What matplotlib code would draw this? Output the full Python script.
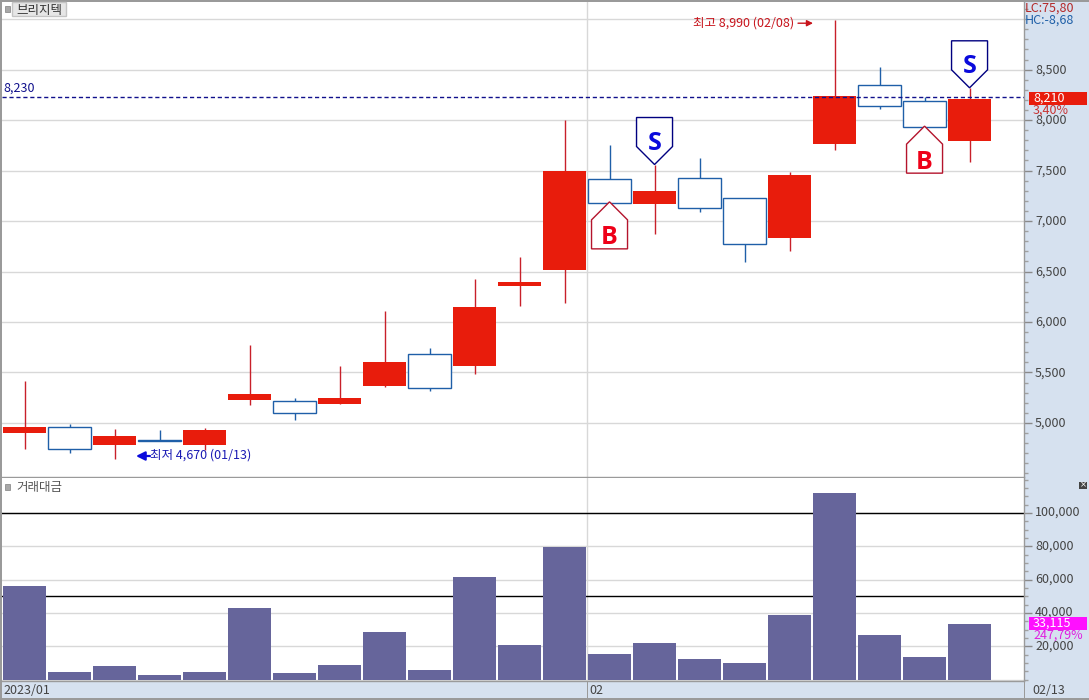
import matplotlib
matplotlib.use('Agg')
import matplotlib.pyplot as plt
from matplotlib.patches import Polygon, Rectangle
from matplotlib.ticker import MultipleLocator, FuncFormatter
import matplotlib.transforms as mtransforms
import numpy as np

plt.rcParams['font.family'] = ['Noto Sans CJK KR', 'DejaVu Sans']

W, H = 1089, 700

# OHLC, one entry per trading day
opens = [4900, 4960, 4870, 4830, 4780, 5230, 5220, 5190, 5370, 5680, 5560, 6360, 6510,
         7420, 7170, 7430, 7230, 6830, 7760, 8350, 8190, 7790]
closes = [4960, 4740, 4780, 4820, 4930, 5290, 5100, 5250, 5600, 5350, 6150, 6395, 7500,
          7180, 7300, 7130, 6770, 7460, 8240, 8140, 7930, 8210]
highs = [5420, 4990, 4940, 4930, 4950, 5770, 5250, 5560, 6110, 5740, 6430, 6640, 8000,
         7750, 7560, 7620, 7230, 7490, 8990, 8530, 8230, 8320]
lows = [4740, 4700, 4640, 4820, 4730, 5180, 5030, 5190, 5360, 5320, 5480, 6160, 6190,
        7190, 6870, 7090, 6590, 6700, 7700, 8110, 7940, 7580]
rising = [1, 0, 1, 0, 1, 1, 0, 1, 1, 0, 1, 1, 1, 0, 1, 0, 0, 1, 1, 0, 0, 1]
volumes = [56200, 4500, 8100, 2700, 4500, 43000, 3900, 8700, 28600, 5700, 61700, 20800, 79800,
           15300, 22000, 12300, 9900, 38800, 111700, 26800, 13500, 33115]

price_ticks = [5000, 5500, 6000, 6500, 7000, 7500, 8000, 8500]
volume_ticks = [20000, 40000, 60000, 80000, 100000]
volume_lines = [50000, 100000]
sell_signals = [(14, 7560), (21, 8320)]
buy_signals = [(13, 7190), (20, 7940)]
last_close = 8230

RED = '#e81c0c'
WICK_RED = '#c8202a'
BLUE = '#1f5fa8'
PANEL = '#d6e1ef'
GRID = '#d8d8d8'
NAVY = '#10108c'


def axes_rect(left, top, right, bottom):
    return [left / W, 1 - bottom / H, (right - left) / W, (bottom - top) / H]


def fig_text(x, y, s, **kw):
    # x, y in image pixels, y from the top
    kw.setdefault('va', 'center')
    kw.setdefault('ha', 'left')
    return fig.text(x / W, 1 - y / H, s, **kw)


def fig_box(left, top, right, bottom, **kw):
    fig.add_artist(Rectangle((left / W, 1 - bottom / H), (right - left) / W, (bottom - top) / H,
                             transform=fig.transFigure, **kw))


def signal(ax, i, price, label, edge, text_color, up):
    # pentagon pinned by its tip to the candle, sizes in pixels
    px, py = ax.transData.transform((i, price))
    s = 1 if up else -1
    verts = [(0, 0), (-18, s * 18), (-18, s * 47), (18, s * 47), (18, s * 18)]
    tr = mtransforms.Affine2D().translate(px, py)
    ax.add_patch(Polygon(verts, closed=True, transform=tr, fc='white', ec=edge, lw=1, zorder=6))
    ax.annotate(label, (i, price), xytext=(0, 21 if up else -36), textcoords='offset pixels', ha='center',
                va='center', color=text_color, fontsize=18, fontweight='bold',
                family=['Open Sans'], zorder=7)


fig = plt.figure(figsize=(W / 100, H / 100), dpi=100, facecolor=PANEL)
ax = fig.add_axes(axes_rect(2, 1, 1024, 477))
vax = fig.add_axes(axes_rect(2, 478, 1024, 681))

x = np.arange(len(opens))
xlim = (-0.5, 22.21)

# candles
ax.set_xlim(*xlim)
ax.set_ylim(4464, 9180)
for i in x:
    wick = WICK_RED if rising[i] else BLUE
    ax.vlines(i, lows[i], highs[i], color=wick, lw=1, zorder=3)
    low_body, high_body = sorted((opens[i], closes[i]))
    if rising[i]:
        ax.bar(i, high_body - low_body, bottom=low_body, width=0.955, color=RED, lw=0, zorder=4)
    else:
        ax.bar(i, high_body - low_body, bottom=low_body, width=0.945, fc='white', ec=BLUE, lw=1, zorder=4)

ax.set_yticks(price_ticks)
ax.yaxis.set_minor_locator(MultipleLocator(100))
ax.yaxis.set_major_formatter(FuncFormatter(lambda v, p: f'{int(v):,}'))
ax.grid(axis='y', color=GRID, lw=1, zorder=0)
ax.axhline(9000, color=GRID, lw=1, zorder=0)
ax.axvline(12.5, color=GRID, lw=1, zorder=1)
ax.axhline(last_close, color=NAVY, lw=1, ls=(0, (3, 2)), zorder=5)

ax.text(-0.47, last_close + 90, f'{last_close:,}', color=NAVY, fontsize=9, va='center')

for i, p in sell_signals:
    signal(ax, i, p, 'S', '#000080', '#0a0adc', True)
for i, p in buy_signals:
    signal(ax, i, p, 'B', '#b4142c', '#ee0018', False)

# high / low notes
fig_text(693, 23, '최고 8,990 (02/08)', color='#c8141c', fontsize=9)
ax.annotate('', xy=(813 / 45 - 0.545, 8990 - 30), xytext=(798 / 45 - 0.545, 8990 - 30),
            arrowprops=dict(arrowstyle='-|>', color='#c8141c', lw=1, shrinkA=0, shrinkB=0,
                            mutation_scale=9))
fig_text(150, 455, '최저 4,670 (01/13)', color='#1a1ab4', fontsize=9)
ax.annotate('', xy=(136 / 45 - 0.545, 4672), xytext=(150 / 45 - 0.545, 4672),
            arrowprops=dict(arrowstyle='-|>', color='#0a0adc', lw=1.6, shrinkA=0, shrinkB=0,
                            mutation_scale=13))

# volume panel
vax.set_xlim(*xlim)
vax.set_ylim(-900, 121000)
vax.bar(x, volumes, width=0.955, color='#66659b', lw=0, zorder=3)
vax.set_yticks(volume_ticks)
vax.yaxis.set_minor_locator(MultipleLocator(5000))
vax.yaxis.set_major_formatter(FuncFormatter(lambda v, p: f'{int(v):,}'))
vax.grid(axis='y', color=GRID, lw=1, zorder=0)
vax.axvline(12.5, color=GRID, lw=1, zorder=1)
for v in volume_lines:
    vax.axhline(v, color='black', lw=1, zorder=2)
vax.axhline(0, color=GRID, lw=1, zorder=2)

for a, lift in ((ax, 1), (vax, 2)):
    a.set_facecolor('white')
    a.yaxis.tick_right()
    a.set_xticks([])
    a.tick_params(axis='y', which='major', length=6, width=1, color='#8a8a8a', labelcolor='#444444',
                  labelsize=9, pad=2)
    a.tick_params(axis='y', which='minor', length=3, width=1, color='#a0a0a0')
    # labels sit a little above their ticks in the reference
    for lab in a.get_yticklabels():
        lab.set_transform(lab.get_transform() + mtransforms.Affine2D().translate(0, lift))
    for name, sp in a.spines.items():
        sp.set_visible(name in ('right', 'bottom'))
        sp.set_color('#9a9a9a')
        sp.set_linewidth(1)

# frame and title bits around the panels
fig_box(0, 0, 1089, 1.5, color='#9a9a9a', lw=0)
fig_box(0, 0, 1.5, 700, color='#9a9a9a', lw=0)
fig_box(0, 698, 1089, 700, color='#9a9a9a', lw=0)
fig_box(587, 681, 588, 698, color='#9a9a9a', lw=0)
fig_box(1024, 681, 1025, 698, color='#9a9a9a', lw=0)
fig_box(5, 6, 10, 12, fc='#a8a8a8', ec='#808080', lw=0.5)
fig_box(12, 2, 66, 16, fc='#e6e6e6', ec='#c4c4c4', lw=1)
fig_text(16, 10.5, '브리지텍', color='#333333', fontsize=9, family=['Noto Sans CJK KR'])
fig_box(5, 484, 10, 490, fc='#a8a8a8', ec='#808080', lw=0.5)
fig_text(16, 488, '거래대금', color='#555555', fontsize=9, family=['Noto Sans CJK KR'])
fig_box(1079, 482, 1087, 489, fc='#444444', lw=0)
fig_text(1083, 485, '×', color='white', fontsize=6, ha='center', family=['DejaVu Sans'])

# right side readouts
fig_text(1025, 8, 'LC:75,80', color='#b42828', fontsize=9)
fig_text(1025, 20, 'HC:-8,68', color='#2060a8', fontsize=9)
fig_box(1029, 92, 1087, 105, color=RED, lw=0, zorder=5)
fig_text(1033, 98, '8,210', color='white', fontsize=9, zorder=6)
fig_text(1033, 110, '3,40%', color='#c83232', fontsize=9, zorder=6)
fig_box(1029, 617, 1087, 630, color='#ff10ff', lw=0, zorder=5)
fig_text(1033, 623, '33,115', color='white', fontsize=9, zorder=6)
fig_text(1033, 635, '247,79%', color='#e020e0', fontsize=9, zorder=6)

# date strip
fig_text(3, 690, '2023/01', color='#444444', fontsize=9)
fig_text(589, 690, '02', color='#444444', fontsize=9)
fig_text(1032, 690, '02/13', color='#444444', fontsize=9)

fig.savefig('out.png', dpi=100, facecolor=fig.get_facecolor())
